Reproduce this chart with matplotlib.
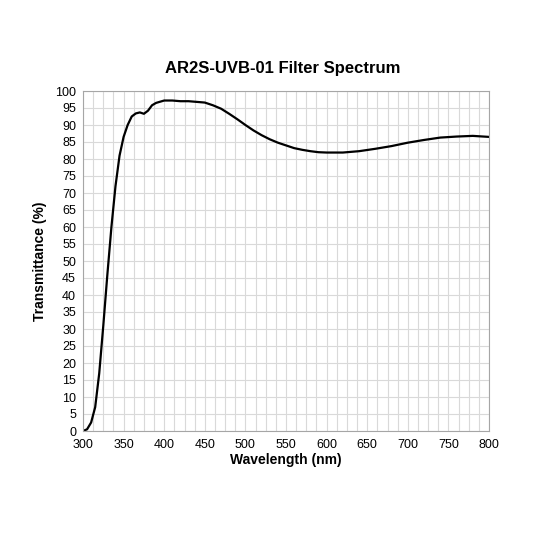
import matplotlib
matplotlib.use("Agg")
import matplotlib.pyplot as plt
import numpy as np

wavelength = [300, 305, 310, 315, 320, 325, 330, 335, 340, 345, 350, 355, 360, 365, 370,
              375, 380, 385, 390, 400, 410, 420, 430, 440, 450, 460, 470, 480, 490, 500,
              510, 520, 530, 540, 550, 560, 570, 580, 590, 600, 620, 640, 660, 680, 700,
              720, 740, 760, 780, 800]
transmittance = [0, 0.5, 2.5, 7, 17, 31, 46, 60, 72, 81, 86.5, 90, 92.5, 93.4, 93.7,
                 93.3, 94.2, 95.8, 96.5, 97.2, 97.2, 97.0, 97.0, 96.8, 96.6, 95.8, 94.8, 93.3, 91.7, 90.0,
                 88.4, 87.0, 85.8, 84.8, 84.0, 83.2, 82.7, 82.3, 82.0, 81.9, 81.9, 82.3, 83.0, 83.8, 84.8,
                 85.6, 86.3, 86.6, 86.8, 86.5]

plt.rcParams["font.family"] = ["Liberation Sans", "DejaVu Sans"]
fig = plt.figure(figsize=(5.33, 5.33), dpi=100)
ax = fig.add_axes([83 / 533, 1 - 431 / 533, 406 / 533, 340 / 533])
ax.plot(wavelength, transmittance, color="black", lw=1.6)
ax.set_xlim(300, 800)
ax.set_ylim(0, 100)
ax.set_xticks(np.arange(300, 801, 50))
ax.set_yticks(np.arange(0, 101, 5))
ax.set_xticks(np.arange(300, 801, 12.5), minor=True)
ax.grid(which="both", color="#d9d9d9", lw=0.8)
ax.set_axisbelow(True)
ax.tick_params(which="both", length=0, labelsize=9)
ax.tick_params(axis="x", pad=6)
ax.tick_params(axis="y", pad=5)
for s in ax.spines.values():
    s.set_color("#a6a6a6")
ax.set_xlabel("Wavelength (nm)", fontsize=10, fontweight="bold", labelpad=1)
ax.set_ylabel("Transmittance (%)", fontsize=10, fontweight="bold", labelpad=6)
fig.text(0.53, 1 - 68 / 533, "AR2S-UVB-01 Filter Spectrum", ha="center", va="center",
         fontsize=12, fontweight="bold")
fig.savefig("out.png", dpi=100)
